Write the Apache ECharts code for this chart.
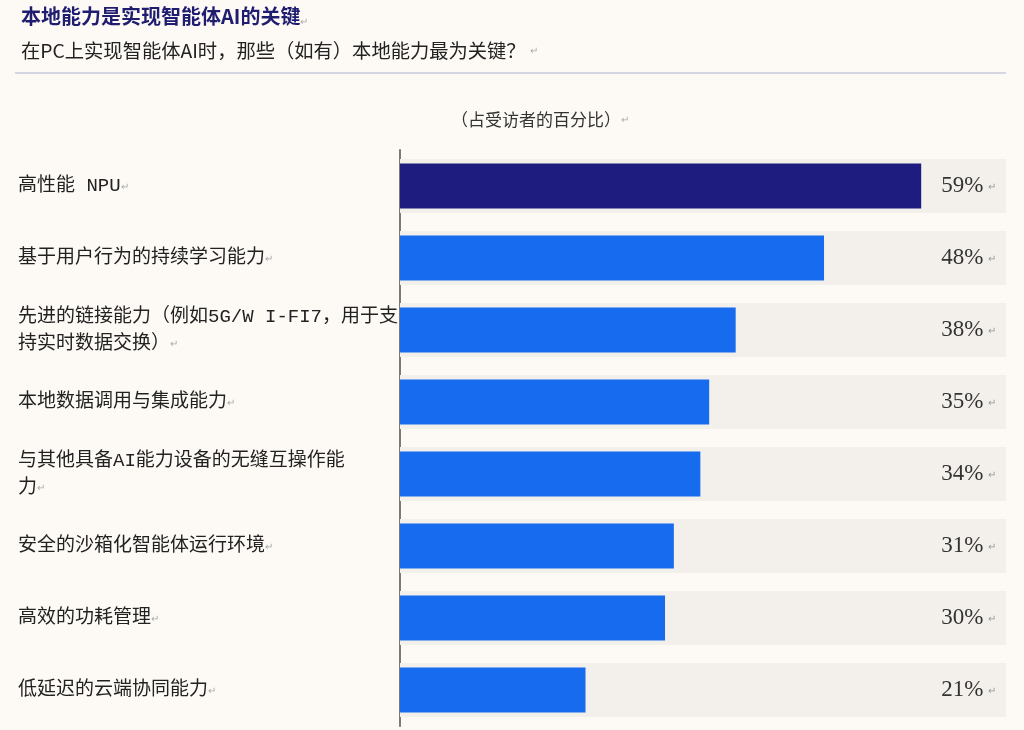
<!DOCTYPE html>
<html>
<head>
<meta charset="utf-8">
<script src="https://cdn.jsdelivr.net/npm/echarts@6/dist/echarts.min.js"></script>
<style>
html,body{margin:0;padding:0;background:#fdfaf5;}
#c{width:1024px;height:730px;}
</style>
</head>
<body>
<div id="c"></div>
<script>
const categories = [
  '高性能 NPU',
  '基于用户行为的持续学习能力',
  '先进的链接能力（例如5G/W I-FI7，用于支\n持实时数据交换）',
  '本地数据调用与集成能力',
  '与其他具备AI能力设备的无缝互操作能\n力',
  '安全的沙箱化智能体运行环境',
  '高效的功耗管理',
  '低延迟的云端协同能力'
];
const values = [59, 48, 38, 35, 34, 31, 30, 21];
const valueLabels = ['59%', '48%', '38%', '35%', '34%', '31%', '30%', '21%'];
const axisMax = 68.6;
const trackValues = [68.6, 68.6, 68.6, 68.6, 68.6, 68.6, 68.6, 68.6];
const titleText = '本地能力是实现智能体AI的关键';
const subtitleText = '在PC上实现智能体AI时，那些（如有）本地能力最为关键？';
const unitText = '（占受访者的百分比）';

const chart = echarts.init(document.getElementById('c'));
const CJK = "'Noto Sans CJK SC', sans-serif";
const MIX = "'Liberation Mono', 'Noto Sans CJK SC', monospace";

chart.setOption({
  backgroundColor: '#fdfaf5',
  animation: false,
  title: [
    {
      text: titleText + '{m|↵}',
      left: 16, top: 1,
      textStyle: {
        fontFamily: CJK, fontSize: 20, fontWeight: 'bold', color: '#1f1d70',
        rich: { m: { fontSize: 10, color: '#aaa', fontWeight: 'normal', verticalAlign: 'bottom' } }
      }
    },
    {
      text: subtitleText + '{m|  ↵}',
      left: 16, top: 36,
      textStyle: {
        fontFamily: CJK, fontSize: 19.3, fontWeight: 'normal', color: '#222',
        rich: { m: { fontSize: 10, color: '#aaa' } }
      }
    },
    {
      text: unitText + '{m|↵}',
      left: 446, top: 106,
      textStyle: {
        fontFamily: CJK, fontSize: 17, fontWeight: 'normal', color: '#333',
        rich: { m: { fontSize: 10, color: '#aaa' } }
      }
    }
  ],
  graphic: [
    { type: 'rect', shape: { x: 15, y: 72, width: 991, height: 2 }, style: { fill: '#d6d5e3' }, silent: true }
  ],
  grid: { left: 400, right: 18, top: 150, bottom: 4, containLabel: false },
  xAxis: {
    type: 'value', min: 0, max: axisMax, show: false
  },
  yAxis: [
    {
      type: 'category', data: categories, inverse: true,
      axisLine: { show: true, lineStyle: { color: '#7a7a7a', width: 2 } },
      axisTick: { show: false },
      axisLabel: {
        align: 'left', margin: 382, fontSize: 19, lineHeight: 27, color: '#222',
        fontFamily: MIX,
        formatter: function (v) { return v + '{m|↵}'; },
        rich: { m: { fontSize: 10, color: '#aaa', fontFamily: CJK } }
      }
    },
    {
      type: 'category', data: categories, inverse: true, show: false
    }
  ],
  series: [
    {
      type: 'bar', yAxisIndex: 1, data: trackValues, barWidth: 54, z: 1,
      itemStyle: { color: '#f3f0ec' },
      silent: true,
      label: {
        show: true, position: 'insideRight', distance: 10,
        formatter: function (p) { return '{v|' + valueLabels[p.dataIndex] + '}{m|  ↵}'; },
        rich: {
          v: { fontFamily: "'Liberation Serif', serif", fontSize: 23, color: '#333' },
          m: { fontSize: 10, color: '#999', fontFamily: CJK }
        }
      }
    },
    {
      type: 'bar', yAxisIndex: 0, data: values.map(function (v, i) {
        return { value: v, itemStyle: { color: i === 0 ? '#1e1c7e' : '#166bef' } };
      }),
      barWidth: 45, z: 3
    }
  ]
});
</script>
</body>
</html>
